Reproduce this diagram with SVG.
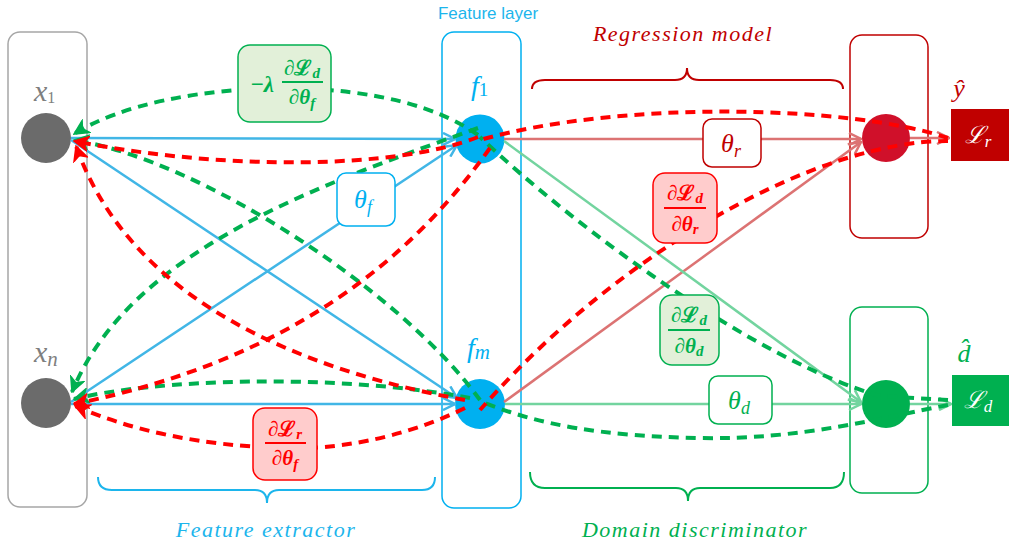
<svg xmlns="http://www.w3.org/2000/svg" width="1009" height="548" viewBox="0 0 1009 548">
<defs>
<style>
.lay{fill:none;stroke-width:1.5}
.sb{stroke:#41b6e6;stroke-width:2.5;fill:none}
.sr{stroke:#dc7373;stroke-width:2.5;fill:none}
.sg{stroke:#73d49f;stroke-width:2.5;fill:none}
.dg{stroke:#00b050;stroke-width:4;fill:none;stroke-dasharray:10 7}
.dr{stroke:#ff0000;stroke-width:4;fill:none;stroke-dasharray:10 7}
.m{font-family:"Liberation Serif","DejaVu Serif",serif;font-style:italic}
.mb{font-family:"Liberation Serif","DejaVu Serif",serif;font-weight:bold}
.cap{font-family:"Liberation Serif","DejaVu Serif",serif;font-style:italic;font-size:22px;letter-spacing:1.5px;text-anchor:middle}
</style>
<marker id="ab" viewBox="0 0 14 14" refX="13" refY="7" markerWidth="14" markerHeight="14" markerUnits="userSpaceOnUse" orient="auto"><path d="M1,1 L13,7 L1,13" fill="none" stroke="#41b6e6" stroke-width="2.5"/></marker>
<marker id="alr" viewBox="0 0 14 14" refX="13" refY="7" markerWidth="14" markerHeight="14" markerUnits="userSpaceOnUse" orient="auto"><path d="M1,1 L13,7 L1,13" fill="none" stroke="#dc7373" stroke-width="2.5"/></marker>
<marker id="alg" viewBox="0 0 14 14" refX="13" refY="7" markerWidth="14" markerHeight="14" markerUnits="userSpaceOnUse" orient="auto"><path d="M1,1 L13,7 L1,13" fill="none" stroke="#73d49f" stroke-width="2.5"/></marker>
<marker id="ag" viewBox="0 0 16 16" refX="15" refY="8" markerWidth="16" markerHeight="16" markerUnits="userSpaceOnUse" orient="auto"><path d="M1,1 L15,8 L1,15 L5,8 Z" fill="#00b050" stroke="#00b050" stroke-width="1.5"/></marker>
<marker id="ar" viewBox="0 0 16 16" refX="15" refY="8" markerWidth="16" markerHeight="16" markerUnits="userSpaceOnUse" orient="auto"><path d="M1,1 L15,8 L1,15 L5,8 Z" fill="#ff0000" stroke="#ff0000" stroke-width="1.5"/></marker>
</defs>
<rect width="1009" height="548" fill="#ffffff"/>

<g id="layer-input"><rect class="lay" x="8" y="32" width="79" height="475" rx="12" stroke="#a6a6a6"/></g>
<g id="layer-feature"><rect class="lay" x="442" y="32" width="79" height="476" rx="12" stroke="#00b0f0"/>
<text x="488" y="19" font-family="Liberation Sans, Arial, sans-serif" font-size="17" fill="#1cb5ec" text-anchor="middle">Feature layer</text></g>
<g id="layer-regression"><rect class="lay" x="850" y="35" width="78" height="203" rx="12" stroke="#c00000"/></g>
<g id="layer-domain"><rect class="lay" x="850" y="307" width="78" height="186" rx="12" stroke="#00b050"/></g>

<g id="node-x1"><circle cx="46" cy="138" r="25" fill="#6b6b6b"/><text class="m" x="34" y="101" font-size="30" fill="#7f7f7f">x<tspan font-size="16" font-style="normal" dy="2">1</tspan></text></g>
<g id="node-xn"><circle cx="46" cy="403" r="25" fill="#6b6b6b"/><text class="m" x="34" y="362" font-size="30" fill="#7f7f7f">x<tspan font-size="21" dy="4">n</tspan></text></g>
<g id="node-f1"><circle cx="480" cy="139" r="24.5" fill="#00b0f0"/><text class="m" x="471" y="95" font-size="28" fill="#00b0f0">f<tspan font-size="19" font-style="normal" dy="1">1</tspan></text></g>
<g id="node-fm"><circle cx="480" cy="404" r="25" fill="#00b0f0"/><text class="m" x="467" y="357" font-size="28" fill="#00b0f0">f<tspan font-size="21" dy="2">m</tspan></text></g>
<g id="node-reg"><circle cx="886" cy="138" r="24" fill="#d0102a"/><text class="m" x="959" y="97" font-size="26" fill="#c00000" text-anchor="middle">ŷ</text></g>
<g id="node-dom"><circle cx="886" cy="404" r="24" fill="#00b050"/><text class="m" x="964" y="362" font-size="26" fill="#00b050" text-anchor="middle">d̂</text></g>

<g id="connectors">
<path class="sb" d="M71,138 L455,139" marker-end="url(#ab)"/>
<path class="sb" d="M71,402 L457,145" marker-end="url(#ab)"/>
<path class="sb" d="M71,140 L457,398" marker-end="url(#ab)"/>
<path class="sb" d="M71,404 L455,404" marker-end="url(#ab)"/>
<path class="sr" d="M504,139 L861,139" marker-end="url(#alr)"/>
<path class="sr" d="M504,402 L861,142" marker-end="url(#alr)"/>
<path class="sr" d="M910,138 L949,138" marker-end="url(#alr)"/>
<path class="sg" d="M504,141 L861,402" marker-end="url(#alg)"/>
<path class="sg" d="M505,404 L861,404" marker-end="url(#alg)"/>
<path class="sg" d="M910,404 L951,404" marker-end="url(#alg)"/>

<path class="dg" d="M948,400 L880,396 C760,362 580,232 480,137"/>
<path class="dg" d="M948,405 C880,418 800,440 700,438 C600,436 540,425 482,402"/>
<path class="dg" d="M478,135 C440,108 380,90 290,88 C200,88 120,105 74,134" marker-end="url(#ag)"/>
<path class="dg" d="M480,400 C400,290 200,160 74,140" marker-end="url(#ag)"/>
<path class="dg" d="M470,398 C330,372 150,380 74,399" marker-end="url(#ag)"/>
<path class="dg" d="M478,128 C320,185 130,250 72,392" marker-end="url(#ag)"/>

<path class="dr" d="M948,138 C850,105 620,100 480,140"/>
<path class="dr" d="M948,141 C820,140 620,250 480,410"/>
<path class="dr" d="M478,137 C400,168 230,172 74,141" marker-end="url(#ar)"/>
<path class="dr" d="M490,148 C410,260 290,360 74,404" marker-end="url(#ar)"/>
<path class="dr" d="M465,400 C300,370 130,300 76,146" marker-end="url(#ar)"/>
<path class="dr" d="M465,408 C400,440 330,450 285,448 C200,446 130,430 75,406" marker-end="url(#ar)"/>

<g id="label-theta-f"><rect x="337" y="173" width="58" height="53" rx="9" fill="#ffffff" stroke="#00b0f0" stroke-width="1.5"/><text class="m" x="363" y="208" font-size="26" fill="#00b0f0" text-anchor="middle">θ<tspan font-size="18" dy="5">f</tspan></text></g>
<g id="label-theta-r"><rect x="703" y="119" width="58" height="48" rx="9" fill="#ffffff" stroke="#c00000" stroke-width="1.5"/><text class="m" x="731" y="152" font-size="26" fill="#c00000" text-anchor="middle">θ<tspan font-size="18" dy="5">r</tspan></text></g>
<g id="label-theta-d"><rect x="709" y="376" width="63" height="48" rx="9" fill="#ffffff" stroke="#00b050" stroke-width="1.5"/><text class="m" x="739" y="409" font-size="26" fill="#00b050" text-anchor="middle">θ<tspan font-size="18" dy="5">d</tspan></text></g>

<g id="label-grad-f-d" fill="#00b050"><rect x="238" y="45" width="93" height="77" rx="12" fill="#e2f0d9" stroke="#00b050" stroke-width="1.5"/>
<text class="mb" x="262" y="92" font-size="23" text-anchor="middle" font-style="italic">−λ</text>
<text class="mb" x="302" y="75" font-size="21" text-anchor="middle">∂ℒ<tspan font-size="15" font-style="italic" dy="3">d</tspan></text>
<rect x="282" y="81" width="41" height="2"/>
<text class="mb" x="302" y="104" font-size="21" text-anchor="middle">∂<tspan font-style="italic">θ</tspan><tspan font-size="15" font-style="italic" dy="4">f</tspan></text></g>

<g id="label-grad-f-r" fill="#ff0000"><rect x="253" y="408" width="64" height="72" rx="12" fill="#ffcccc" stroke="#ff0000" stroke-width="1.5"/>
<text class="mb" x="285" y="436" font-size="21" text-anchor="middle">∂ℒ<tspan font-size="15" font-style="italic" dy="3">r</tspan></text>
<rect x="265" y="442" width="41" height="2"/>
<text class="mb" x="285" y="465" font-size="21" text-anchor="middle">∂<tspan font-style="italic">θ</tspan><tspan font-size="15" font-style="italic" dy="4">f</tspan></text></g>

<g id="label-grad-r-d" fill="#ff0000"><rect x="653" y="173" width="64" height="70" rx="12" fill="#ffcccc" stroke="#ff0000" stroke-width="1.5"/>
<text class="mb" x="685" y="200" font-size="21" text-anchor="middle">∂ℒ<tspan font-size="15" font-style="italic" dy="3">d</tspan></text>
<rect x="664" y="207" width="42" height="2"/>
<text class="mb" x="685" y="231" font-size="21" text-anchor="middle">∂<tspan font-style="italic">θ</tspan><tspan font-size="15" font-style="italic" dy="3">r</tspan></text></g>

<g id="label-grad-d-d" fill="#00b050"><rect x="660" y="295" width="59" height="70" rx="12" fill="#e2f0d9" stroke="#00b050" stroke-width="1.5"/>
<text class="mb" x="689" y="322" font-size="21" text-anchor="middle">∂ℒ<tspan font-size="15" font-style="italic" dy="3">d</tspan></text>
<rect x="668" y="329" width="42" height="2"/>
<text class="mb" x="689" y="353" font-size="21" text-anchor="middle">∂<tspan font-style="italic">θ</tspan><tspan font-size="15" font-style="italic" dy="3">d</tspan></text></g>
</g>

<g id="node-Lr"><rect x="951" y="109" width="58" height="52" fill="#c00000"/><text class="m" x="978" y="143" font-size="24" fill="#ffffff" text-anchor="middle">ℒ<tspan font-size="17" dy="4">r</tspan></text></g>
<g id="node-Ld"><rect x="952" y="375" width="57" height="51" fill="#00b050"/><text class="m" x="978" y="408" font-size="24" fill="#ffffff" text-anchor="middle">ℒ<tspan font-size="17" dy="4">d</tspan></text></g>

<g id="braces" fill="none" stroke-width="2">
<path stroke="#c00000" d="M532,89 Q532,80 545,80 L675,80 Q687,80 687,68 Q687,80 699,80 L830,80 Q843,80 843,89"/>
<path stroke="#1cb5ec" d="M98,477 Q98,490 112,490 L255,490 Q267,490 267,503 Q267,490 279,490 L422,490 Q435,490 435,477"/>
<path stroke="#00b050" d="M530,472 Q530,488 545,488 L676,488 Q688,488 688,501 Q688,488 700,488 L830,488 Q844,488 844,472"/>
</g>
<text class="cap" x="683" y="41" fill="#c00000">Regression model</text>
<text class="cap" x="266" y="537" fill="#1cb5ec">Feature extractor</text>
<text class="cap" x="695" y="537" fill="#00b050">Domain discriminator</text>
</svg>
